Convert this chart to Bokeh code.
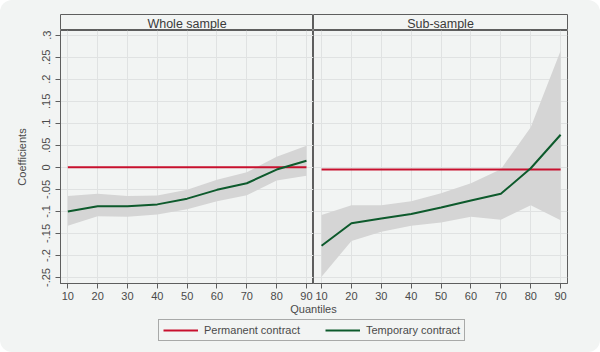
from bokeh.plotting import figure
from bokeh.layouts import column, row
from bokeh.models import Range1d, FixedTicker, CustomJSTickFormatter, Label
from bokeh.embed import file_html
from bokeh.resources import INLINE

# ---------------- data ----------------
quantiles = [10, 20, 30, 40, 50, 60, 70, 80, 90]
x_tick_labels = ["10", "20", "30", "40", "50", "60", "70", "80", "90"]

y_ticks = [-0.25, -0.2, -0.15, -0.1, -0.05, 0, 0.05, 0.1, 0.15, 0.2, 0.25, 0.3]
y_tick_labels = ["-.25", "-.2", "-.15", "-.1", "-.05", "0", ".05", ".1", ".15", ".2", ".25", ".3"]

panel_titles = ["Whole sample", "Sub-sample"]
series_names = ["Permanent contract", "Temporary contract"]

whole_perm = [0, 0, 0, 0, 0, 0, 0, 0, 0]
whole_temp = [-0.100, -0.088, -0.088, -0.084, -0.071, -0.051, -0.036, -0.005, 0.015]
whole_lo = [-0.1325, -0.111, -0.112, -0.107, -0.095, -0.077, -0.063, -0.030, -0.019]
whole_hi = [-0.065, -0.060, -0.065, -0.064, -0.051, -0.028, -0.011, 0.024, 0.049]

sub_perm = [-0.005, -0.005, -0.005, -0.005, -0.005, -0.005, -0.005, -0.005, -0.005]
sub_temp = [-0.178, -0.127, -0.116, -0.106, -0.091, -0.075, -0.060, -0.002, 0.074]
sub_lo = [-0.248, -0.167, -0.146, -0.1325, -0.125, -0.112, -0.119, -0.086, -0.120]
sub_hi = [-0.108, -0.086, -0.086, -0.077, -0.059, -0.036, -0.004, 0.091, 0.265]

# ---------------- style ----------------
BG = "#f2f4f3"
OUTLINE = "#5e5e5e"
GRID = "#e0e2e2"
TEXT = "#4a4a4a"
RED = "#c8102e"
GREEN = "#0d5a2c"
BAND = "#d5d5d5"
FONT = "Liberation Sans"

Y_RANGE = (-0.2636, 0.3107)
NAN = float("nan")


def style_fig(p):
    p.background_fill_color = BG
    p.border_fill_alpha = 0
    p.outline_line_color = OUTLINE
    p.outline_line_width = 1


def header(text, width, left, right):
    h = figure(width=width, height=30, x_range=Range1d(0, 1), y_range=Range1d(0, 1),
               toolbar_location=None, output_backend="svg",
               x_axis_location=None, y_axis_location=None,
               min_border_left=left, min_border_right=right,
               min_border_top=14, min_border_bottom=0)
    style_fig(h)
    h.xgrid.visible = False
    h.ygrid.visible = False
    h.add_layout(Label(x=0.5, y=0.4, text=text, text_align="center", text_baseline="middle",
                       text_font=FONT, text_font_size="12.5px", text_color="#3a3a3a"))
    return h


FMT_CODE = """
for (let i = 0; i < tvals.length; i++) {
  if (Math.abs(tvals[i] - tick) < 1e-9) { return tlabels[i]; }
}
return '';
"""
ytick_fmt = CustomJSTickFormatter(args=dict(tvals=y_ticks, tlabels=y_tick_labels), code=FMT_CODE)
xtick_fmt = CustomJSTickFormatter(args=dict(tvals=quantiles, tlabels=x_tick_labels), code=FMT_CODE)


def panel(width, left, right, xr, perm, temp, lo, hi, with_y):
    p = figure(width=width, height=273, x_range=Range1d(*xr), y_range=Range1d(*Y_RANGE),
               toolbar_location=None, output_backend="svg",
               y_axis_location="left" if with_y else None,
               min_border_left=left, min_border_right=right,
               min_border_top=0, min_border_bottom=20)
    style_fig(p)
    p.xgrid.ticker = FixedTicker(ticks=quantiles)
    p.ygrid.ticker = FixedTicker(ticks=y_ticks)
    for g in (p.xgrid, p.ygrid):
        g.grid_line_color = GRID
        g.grid_line_width = 1

    ax = p.xaxis[0]
    ax.ticker = FixedTicker(ticks=quantiles)
    ax.formatter = xtick_fmt
    axes = [ax]
    if with_y:
        ay = p.yaxis[0]
        ay.ticker = FixedTicker(ticks=y_ticks)
        ay.formatter = ytick_fmt
        ay.major_label_orientation = "vertical"
        ay.axis_label = "Coefficients"
        ay.axis_label_text_font = FONT
        ay.axis_label_text_font_size = "11px"
        ay.axis_label_text_font_style = "normal"
        ay.axis_label_text_color = TEXT
        ay.axis_label_standoff = 12
        ay.major_label_standoff = 5
        axes.append(ay)
    for a in axes:
        a.axis_line_color = OUTLINE
        a.major_tick_line_color = OUTLINE
        a.minor_tick_line_color = None
        a.major_tick_out = 5
        a.major_tick_in = 0
        a.major_label_text_font = FONT
        a.major_label_text_font_size = "11px"
        a.major_label_text_color = TEXT
    ax.major_label_standoff = 3

    p.varea(x=quantiles, y1=lo, y2=hi, fill_color=BAND, fill_alpha=1)
    p.line(x=quantiles, y=perm, line_color=RED, line_width=2)
    p.line(x=quantiles, y=temp, line_color=GREEN, line_width=2)
    return p


hL = header(panel_titles[0], 313, 60, 0)
hR = header(panel_titles[1], 287, 0, 33)
pL = panel(313, 60, 0, (7.55, 92.35), whole_perm, whole_temp, whole_lo, whole_hi, True)
pR = panel(287, 0, 33, (7.3, 92.3), sub_perm, sub_temp, sub_lo, sub_hi, False)

# bottom strip: shared x-axis title and legend
bottom = figure(width=600, height=49, x_range=Range1d(0, 600), y_range=Range1d(0, 49),
                toolbar_location=None, output_backend="svg",
                x_axis_location=None, y_axis_location=None,
                min_border_left=0, min_border_right=0, min_border_top=0, min_border_bottom=0)
bottom.background_fill_alpha = 0
bottom.border_fill_alpha = 0
bottom.outline_line_color = None
bottom.xgrid.visible = False
bottom.ygrid.visible = False
bottom.add_layout(Label(x=313, y=44, text="Quantiles", text_align="center", text_baseline="middle",
                        text_font=FONT, text_font_size="11px", text_color=TEXT))
# legend-only renderers (a single NaN point draws nothing on the canvas)
bottom.line(x=[NAN], y=[NAN], line_color=RED, line_width=2, legend_label=series_names[0])
bottom.line(x=[NAN], y=[NAN], line_color=GREEN, line_width=2, legend_label=series_names[1])
lg = bottom.legend[0]
lg.orientation = "horizontal"
lg.location = (158, 11)
lg.margin = 0
lg.padding = 4
lg.spacing = 25
lg.glyph_width = 35
lg.glyph_height = 12
lg.label_height = 12
lg.label_width = 93
lg.label_standoff = 6
lg.label_text_font = FONT
lg.label_text_font_size = "11px"
lg.label_text_color = TEXT
lg.border_line_color = OUTLINE
lg.border_line_width = 1
lg.background_fill_color = BG
lg.background_fill_alpha = 1

layout = column(row(hL, hR), row(pL, pR), bottom,
                styles={"background-color": BG, "border-radius": "12px"})

open("out.html", "w").write(file_html(layout, INLINE))
